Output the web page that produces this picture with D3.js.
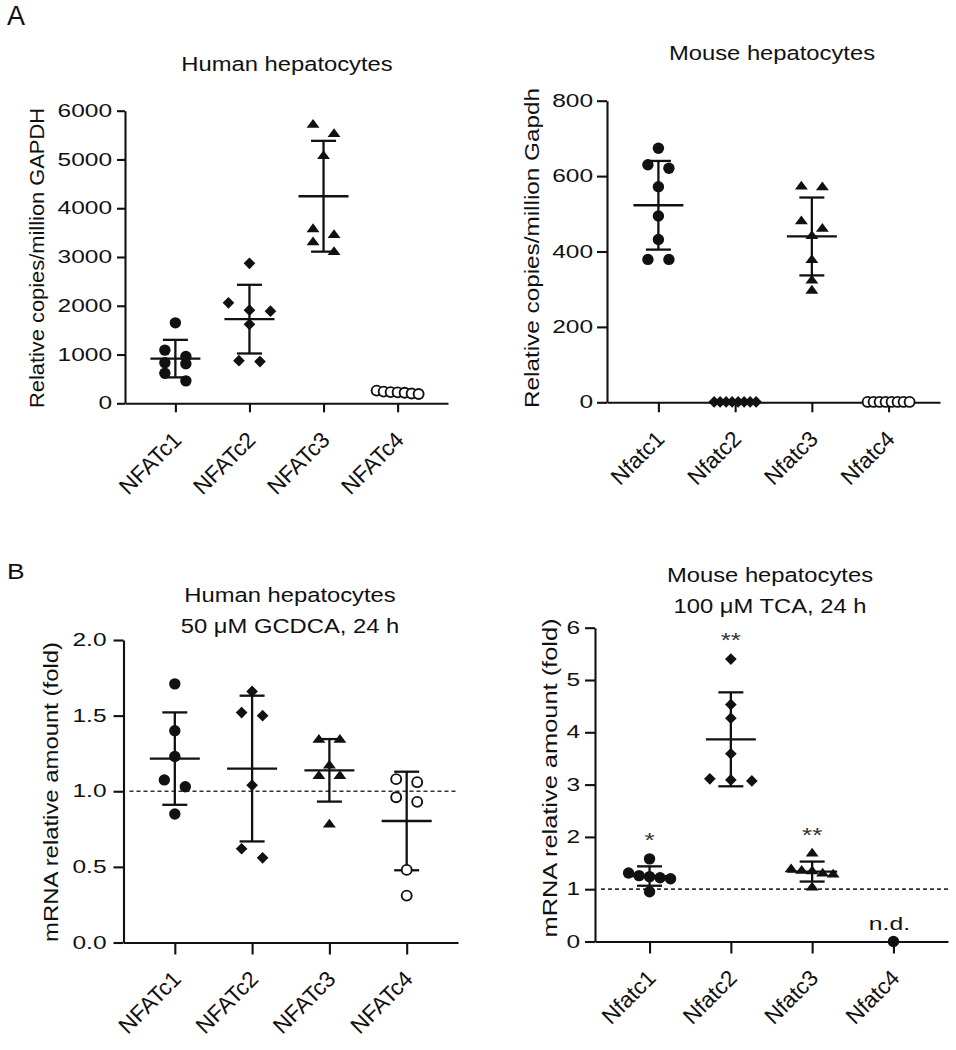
<!DOCTYPE html>
<html><head><meta charset="utf-8">
<script src="https://cdn.jsdelivr.net/npm/d3@7"></script>
<style>
body{margin:0;background:#fff}
svg{display:block;font-family:"Liberation Sans",Arial,sans-serif}
</style></head>
<body><svg id="fig" width="956" height="1050"></svg>
<script>
// values
var humanGenes = ["NFATc1","NFATc2","NFATc3","NFATc4"]
var mouseGenes = ["Nfatc1","Nfatc2","Nfatc3","Nfatc4"]

var humanCopies = [
  [1650, 1090, 960, 830, 810, 615, 460],
  [2870, 2060, 1910, 1890, 1620, 875, 855],
  [5710, 5520, 5070, 3570, 3450, 3300, 3100],
  [260, 240, 230, 225, 215, 200, 190]
]
var mouseCopies = [
  [674, 630, 621, 572, 494, 432, 379, 379],
  [1, 1, 1, 1, 1, 1, 1, 1],
  [572, 570, 480, 460, 441, 377, 323, 296],
  [1, 1, 1, 1, 1, 1, 1, 1]
]
var humanFold = [
  [1.71, 1.40, 1.23, 1.075, 1.03, 0.85],
  [1.66, 1.52, 1.50, 1.04, 0.62, 0.56],
  [1.34, 1.34, 1.17, 1.10, 1.10, 0.78],
  [1.08, 1.06, 0.96, 0.93, 0.48, 0.31]
]
var mouseFold = [
  [1.58, 1.31, 1.26, 1.24, 1.22, 1.20, 0.95],
  [5.40, 4.53, 4.27, 3.59, 3.11, 3.09, 3.07],
  [1.68, 1.38, 1.35, 1.34, 1.30, 1.28, 1.03],
  [0]
]
var mouseFoldMarks = ["*", "**", "**", "n.d."]

var humanCopiesTicks = [0, 1000, 2000, 3000, 4000, 5000, 6000]
var mouseCopiesTicks = [0, 200, 400, 600, 800]
var humanFoldTicks = [0, 0.5, 1.0, 1.5, 2.0]
var mouseFoldTicks = [0, 1, 2, 3, 4, 5, 6]

var shapes = ["circle", "diamond", "triangle", "open"]
var ndShapes = ["circle", "diamond", "triangle", "circle"]

var svg = d3.select("#fig")
var ink = "#111"

var panels = [
  {genes: humanGenes, values: humanCopies, ticks: humanCopiesTicks, fmt: d3.format("d"), shapes: shapes,
   x0: 125, x1: 448, y0: 403.3, y1: 110.7, pad: 0.68, yTick: 8, yGap: 13, xTick: 9,
   yLabel: "Relative copies/million GAPDH", yLabelPos: [44, 258, 300],
   title: ["Human hepatocytes"], titlePos: [287, 71]},
  {genes: mouseGenes, values: mouseCopies, ticks: mouseCopiesTicks, fmt: d3.format("d"), shapes: shapes,
   x0: 607, x1: 940, y0: 402.3, y1: 100.7, pad: 0.67, yTick: 10, yGap: 14, xTick: 10,
   yLabel: "Relative copies/million Gapdh", yLabelPos: [539, 248, 320],
   title: ["Mouse hepatocytes"], titlePos: [772, 60]},
  {genes: humanGenes, values: humanFold, ticks: humanFoldTicks, fmt: d3.format(".1f"), shapes: shapes,
   x0: 123.5, x1: 458, y0: 942.5, y1: 640, pad: 0.664, yTick: 10, yGap: 17, xTick: 12,
   yLabel: "mRNA relative amount (fold)", yLabelPos: [58, 792, 300],
   title: ["Human hepatocytes", "50 \u03bcM GCDCA, 24 h"], titlePos: [290, 602],
   refLine: 1},
  {genes: mouseGenes, values: mouseFold, ticks: mouseFoldTicks, fmt: d3.format("d"), shapes: ndShapes,
   x0: 595, x1: 948, y0: 941.5, y1: 627.7, pad: 0.671, yTick: 10, yGap: 15, xTick: 12,
   yLabel: "mRNA relative amount (fold)", yLabelPos: [557, 778, 319],
   title: ["Mouse hepatocytes", "100 \u03bcM TCA, 24 h"], titlePos: [770, 582],
   refLine: 1, marks: mouseFoldMarks}
]

// spread points of a column sideways, row by row
var spread = function(vals, y){
  var pts = vals.map(function(v){ return {v: v, y: y(v)} })
  pts.sort(function(a, b){ return a.y - b.y })
  var rows = [], cur = null
  pts.forEach(function(p){
    if(!cur || p.y - cur[0].y > 10){ cur = [p]; rows.push(cur) }
    else cur.push(p)
  })
  rows.forEach(function(r){
    var s = r.length > 1 ? Math.min(21, 42/(r.length-1)) : 0
    r.forEach(function(p, k){ p.dx = (k - (r.length-1)/2)*s })
  })
  return pts
}

var drawMarker = function(g, shape){
  if(shape == "circle"){
    g.append("circle").attr("r", 5.7).attr("fill", ink)
  }else if(shape == "open"){
    g.append("circle").attr("r", 5).attr("fill", "#fff").attr("stroke", ink).attr("stroke-width", 1.9)
  }else if(shape == "diamond"){
    g.append("path").attr("d", d3.symbol(d3.symbolSquare, 68)()).attr("transform", "rotate(45)").attr("fill", ink)
  }else{
    g.append("path").attr("d", d3.symbol(d3.symbolTriangle, 66)()).attr("transform", "scale(1.05,0.82)").attr("fill", ink)
  }
}

var stretchText = function(parent, txt, x, y, size, sx, anchor){
  return parent.append("text")
    .attr("transform", "translate(" + x + "," + y + ") scale(" + sx + ",1)")
    .attr("text-anchor", anchor || "middle")
    .attr("font-size", size)
    .attr("fill", ink)
    .text(txt)
}

var drawPanel = function(p){
  var x = d3.scalePoint().domain(p.genes).range([p.x0, p.x1]).padding(p.pad)
  var y = d3.scaleLinear().domain([p.ticks[0], p.ticks[p.ticks.length-1]]).range([p.y0, p.y1])
  var g = svg.append("g")

  // y axis
  var ya = g.append("g").attr("transform", "translate(" + p.x0 + ",0)")
    .call(d3.axisLeft(y).tickValues(p.ticks).tickFormat(p.fmt).tickSize(p.yTick).tickSizeOuter(0))
  ya.selectAll("path,line").attr("stroke", ink).attr("stroke-width", 2.1)
  ya.selectAll("text")
    .attr("font-size", 17.5).attr("font-family", null).attr("fill", ink)
    .attr("x", -p.yGap/1.4).attr("transform", "scale(1.4,1)")

  // x axis
  var xa = g.append("g").attr("transform", "translate(0," + p.y0 + ")")
    .call(d3.axisBottom(x).tickSize(p.xTick).tickSizeOuter(0))
  xa.selectAll("path,line").attr("stroke", ink).attr("stroke-width", 2.1)
  xa.selectAll("text")
    .attr("font-size", 22.5).attr("font-family", null).attr("fill", ink)
    .attr("x", 0).attr("y", 0).attr("dy", 0)
    .attr("transform", "translate(7,38) rotate(-45)")
    .style("text-anchor", "end")

  if(p.refLine != null){
    g.append("line")
      .attr("x1", p.x0 + 6).attr("x2", p.x1)
      .attr("y1", y(p.refLine)).attr("y2", y(p.refLine))
      .attr("stroke", "#333").attr("stroke-width", 1.7).attr("stroke-dasharray", "4,3")
  }

  // mean and SD bars, then points
  p.values.forEach(function(vals, i){
    var cx = x(p.genes[i])
    var col = g.append("g")
    if(vals.length > 1){
      var m = d3.mean(vals), sd = d3.deviation(vals)
      col.append("line").attr("x1", cx - 25).attr("x2", cx + 25).attr("y1", y(m)).attr("y2", y(m))
      col.append("line").attr("x1", cx).attr("x2", cx).attr("y1", y(m + sd)).attr("y2", y(m - sd))
      col.append("line").attr("x1", cx - 12.5).attr("x2", cx + 12.5).attr("y1", y(m + sd)).attr("y2", y(m + sd))
      col.append("line").attr("x1", cx - 12.5).attr("x2", cx + 12.5).attr("y1", y(m - sd)).attr("y2", y(m - sd))
      col.selectAll("line").attr("stroke", ink).attr("stroke-width", 2.3)
    }
    col.selectAll(".pt")
        .data(spread(vals, y))
      .enter().append("g")
        .attr("class", "pt")
        .attr("transform", function(d){ return "translate(" + (cx + d.dx) + "," + d.y + ")" })
        .each(function(){ drawMarker(d3.select(this), p.shapes[i]) })

    if(p.marks && p.marks[i]){
      var top = y(d3.max(vals))
      if(p.marks[i] == "n.d.") stretchText(g, p.marks[i], cx - 4, top - 12, 19, 1.3)
      else stretchText(g, p.marks[i], cx, top - 12, 20, 1.3).attr("fill", "#333")
    }
  })

  // y label
  g.append("text")
    .attr("transform", "translate(" + p.yLabelPos[0] + "," + p.yLabelPos[1] + ") rotate(-90)")
    .attr("text-anchor", "middle")
    .attr("font-size", 21)
    .attr("textLength", p.yLabelPos[2])
    .attr("lengthAdjust", "spacingAndGlyphs")
    .attr("fill", ink)
    .text(p.yLabel)

  // title
  p.title.forEach(function(t, k){
    stretchText(g, t, p.titlePos[0], p.titlePos[1] + k*31, 20.5, 1.16)
  })
}

panels.forEach(drawPanel)

stretchText(svg, "A", 7, 25, 27, 1, "start")
stretchText(svg, "B", 7, 579, 22, 1.2, "start")
</script>
</body></html>
